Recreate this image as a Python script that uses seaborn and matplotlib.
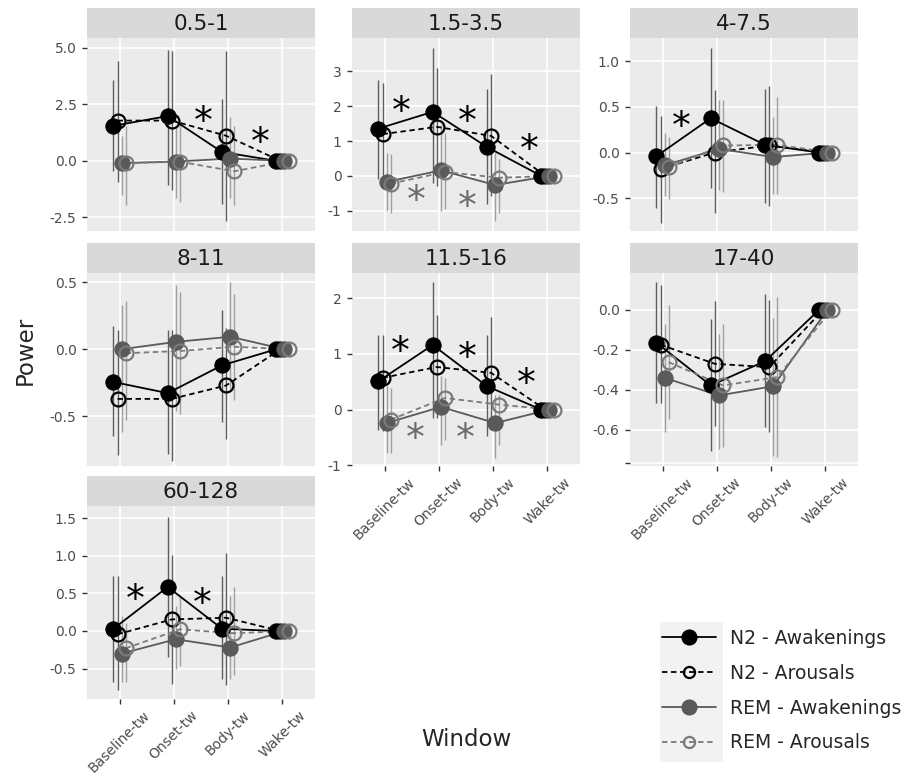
import numpy as np
import pandas as pd
import matplotlib
matplotlib.use("Agg")
import matplotlib.pyplot as plt
import seaborn as sns
from matplotlib.lines import Line2D
from matplotlib.patches import Rectangle

# ---------------- data ----------------
windows = ["Baseline-tw", "Onset-tw", "Body-tw", "Wake-tw"]
bands = ["0.5-1", "1.5-3.5", "4-7.5", "8-11", "11.5-16", "17-40", "60-128"]
series_names = ["N2 - Awakenings", "N2 - Arousals", "REM - Awakenings", "REM - Arousals"]

n2_awk_mean = [[1.55, 1.98, 0.39, 0], [1.36, 1.84, 0.83, 0], [-0.04, 0.376, 0.084, 0],
               [-0.244, -0.327, -0.12, 0], [0.51, 1.16, 0.42, 0], [-0.165, -0.378, -0.257, 0],
               [0.03, 0.586, 0.03, 0]]
n2_aro_mean = [[1.78, 1.78, 1.11, 0], [1.2, 1.41, 1.15, 0], [-0.18, 0.0, 0.077, 0],
               [-0.37, -0.37, -0.27, 0], [0.57, 0.765, 0.66, 0], [-0.175, -0.27, -0.287, 0],
               [-0.044, 0.154, 0.176, 0]]
rem_awk_mean = [[-0.1, -0.03, 0.1, 0], [-0.17, 0.16, -0.26, 0], [-0.14, 0.04, -0.05, 0],
                [0.0, 0.055, 0.093, 0], [-0.24, 0.05, -0.24, 0], [-0.34, -0.428, -0.382, 0],
                [-0.3, -0.11, -0.22, 0]]
rem_aro_mean = [[-0.1, -0.04, -0.46, 0], [-0.22, 0.11, -0.05, 0], [-0.16, 0.077, 0.084, 0],
                [-0.03, -0.013, 0.018, 0], [-0.18, 0.21, 0.09, 0], [-0.262, -0.378, -0.337, 0],
                [-0.23, 0.022, -0.03, 0]]

# error bar limits (Baseline, Onset, Body); Wake-tw has none
n2_awk_hi = [[3.58, 4.91, 2.72], [2.76, 3.68, 2.49], [0.515, 1.14, 0.70], [0.17, 0.14, 0.29],
             [1.34, 2.28, 1.34], [0.138, -0.045, 0.077], [0.735, 1.52, 0.727]]
n2_awk_lo = [[-0.43, -1.05, -1.92], [-0.1, -0.19, -0.81], [-0.61, -0.39, -0.55], [-0.65, -0.78, -0.54],
             [-0.36, -0.15, -0.48], [-0.467, -0.703, -0.587], [-0.68, -0.35, -0.64]]
n2_aro_hi = [[4.41, 4.84, 4.87], [2.66, 3.11, 2.92], [0.405, 0.69, 0.73], [0.14, 0.14, 0.16],
             [1.33, 1.69, 1.67], [0.122, 0.042, 0.047], [0.727, 1.01, 1.04]]
n2_aro_lo = [[-0.94, -1.3, -2.67], [-0.14, -0.29, -0.57], [-0.77, -0.66, -0.59], [-0.79, -0.83, -0.67],
             [-0.39, -0.15, -0.36], [-0.467, -0.578, -0.612], [-0.79, -0.7, -0.72]]
rem_awk_hi = [[1.08, 1.52, 1.95], [0.67, 1.45, 0.67], [0.21, 0.58, 0.39], [0.33, 0.48, 0.5],
              [0.42, 0.6, 0.27], [-0.07, -0.12, -0.04], [0.2, 0.33, 0.46]]
rem_awk_lo = [[-1.52, -1.66, -1.66], [-1.0, -1.0, -1.29], [-0.48, -0.41, -0.46], [-0.62, -0.46, -0.29],
              [-0.78, -0.63, -0.87], [-0.61, -0.695, -0.728], [-0.68, -0.51, -0.64]]
rem_aro_hi = [[1.52, 1.66, 1.52], [0.62, 1.24, 0.48], [0.175, 0.58, 0.61], [0.36, 0.43, 0.41],
              [0.39, 0.57, 0.27], [0.022, -0.07, 0.063], [0.11, 0.46, 0.586]]
rem_aro_lo = [[-1.95, -1.8, -1.95], [-1.05, -0.96, -1.05], [-0.51, -0.43, -0.45], [-0.53, -0.48, -0.38],
              [-0.78, -0.54, -0.63], [-0.545, -0.687, -0.737], [-0.68, -0.46, -0.59]]

# significance markers: (band index, x position in window units, y value, group)
sig_marks = [(0, 1.54, 1.95, "N2"), (0, 2.59, 1.05, "N2"),
             (1, 0.31, 2.0, "N2"), (1, 1.52, 1.72, "N2"), (1, 2.67, 0.91, "N2"),
             (1, 0.58, -0.57, "REM"), (1, 1.52, -0.72, "REM"),
             (2, 0.34, 0.34, "N2"),
             (4, 0.29, 1.14, "N2"), (4, 1.52, 1.02, "N2"), (4, 2.61, 0.57, "N2"),
             (4, 0.57, -0.42, "REM"), (4, 1.49, -0.42, "REM"),
             (6, 0.29, 0.485, "N2"), (6, 1.52, 0.44, "N2")]

y_ticks = [[-2.5, 0, 2.5, 5.0], [-1, 0, 1, 2, 3], [-0.5, 0, 0.5, 1.0], [-0.5, 0, 0.5],
           [-1, 0, 1, 2], [-0.765, -0.6, -0.4, -0.2, 0.0], [-0.5, 0, 0.5, 1.0, 1.5]]
y_ticklabels = [["-2.5", "0.0", "2.5", "5.0"], ["-1", "0", "1", "2", "3"],
                ["-0.5", "0.0", "0.5", "1.0"], ["-0.5", "0.0", "0.5"],
                ["-1", "0", "1", "2"], ["", "-0.6", "-0.4", "-0.2", "0.0"],
                ["-0.5", "0.0", "0.5", "1.0", "1.5"]]
y_lims = [(-3.1, 5.43), (-1.58, 3.96), (-0.86, 1.255), (-0.87, 0.568),
          (-1.01, 2.45), (-0.78, 0.183), (-0.905, 1.663)]

means = [n2_awk_mean, n2_aro_mean, rem_awk_mean, rem_aro_mean]
his = [n2_awk_hi, n2_aro_hi, rem_awk_hi, rem_aro_hi]
los = [n2_awk_lo, n2_aro_lo, rem_awk_lo, rem_aro_lo]

rows = []
for si, name in enumerate(series_names):
    for bi, band in enumerate(bands):
        for wi, win in enumerate(windows):
            hi = his[si][bi][wi] if wi < 3 else np.nan
            lo = los[si][bi][wi] if wi < 3 else np.nan
            rows.append(dict(series=name, sidx=si, band=band, bidx=bi, window=win, widx=wi,
                             mean=means[si][bi][wi], hi=hi, lo=lo))
df = pd.DataFrame(rows)
dodge_width = 0.3
df["x"] = df["widx"] + (df["sidx"] - 1.5) * dodge_width / 4

# ---------------- style ----------------
sns.set_theme(style="darkgrid")
plt.rcParams["font.family"] = ["DejaVu Sans"]

line_col = {0: "black", 1: "black", 2: "#5a5a5a", 3: "#7a7a7a"}
line_ls = {0: "-", 1: (0, (3, 2)), 2: "-", 3: (0, (3, 2))}
filled = {0: True, 1: False, 2: True, 3: False}
err_col = {0: "#5e5e5e", 1: "#5e5e5e", 2: "#a0a0a0", 3: "#a0a0a0"}
star_col = {"N2": "black", "REM": "#6a6a6a"}

W, H = 909, 776
fig = plt.figure(figsize=(W / 100, H / 100), dpi=100)
fig.patch.set_facecolor("white")

col_left = [87, 352, 630]
row_top = [38, 273, 506]
panel_w, panel_h, strip_h = 228, 193, 30


def fx(px):
    return px / W


def fy(py):
    return 1 - py / H


xlabel_panels = {4, 5, 6}

for bi, band in enumerate(bands):
    r, c = divmod(bi, 3)
    left, top = col_left[c], row_top[r]
    ax = fig.add_axes([fx(left), fy(top + panel_h), panel_w / W, panel_h / H])
    ax.set_facecolor("#EBEBEB")
    for s in ax.spines.values():
        s.set_visible(False)
    sub = df[df["bidx"] == bi]

    for si in range(4):
        d = sub[(sub["sidx"] == si) & sub["hi"].notna()]
        ax.vlines(d["x"], d["lo"], d["hi"], colors=err_col[si], lw=1.0, zorder=2)
    for si in range(4):
        d = sub[sub["sidx"] == si]
        sns.lineplot(data=d, x="x", y="mean", ax=ax, color=line_col[si], linestyle=line_ls[si],
                     lw=1.3, estimator=None, sort=False, errorbar=None, legend=False, zorder=3)
    for si in range(4):
        d = sub[sub["sidx"] == si]
        if filled[si]:
            sns.lineplot(data=d, x="x", y="mean", ax=ax, color=line_col[si], lw=0, marker="o",
                         markersize=11, markerfacecolor=line_col[si], markeredgecolor=line_col[si],
                         estimator=None, sort=False, errorbar=None, legend=False, zorder=4)
        else:
            sns.lineplot(data=d, x="x", y="mean", ax=ax, color=line_col[si], lw=0, marker="o",
                         markersize=10, markerfacecolor="none", markeredgecolor=line_col[si],
                         markeredgewidth=1.6, estimator=None, sort=False, errorbar=None,
                         legend=False, zorder=4)

    for (pb, sx, sy, grp) in sig_marks:
        if pb == bi:
            ax.annotate("*", (sx, sy), xytext=(0, -12), textcoords="offset points",
                        ha="center", va="baseline", fontsize=27, color=star_col[grp], zorder=5)

    ax.set_xlim(-0.6, 3.6)
    ax.set_ylim(*y_lims[bi])
    ax.set_xticks(range(len(windows)))
    ax.set_yticks(y_ticks[bi])
    ax.set_yticklabels(y_ticklabels[bi])
    ax.grid(True, color="white", lw=1.2)
    ax.set_axisbelow(True)
    ax.set_xlabel("")
    ax.set_ylabel("")
    ax.tick_params(axis="y", length=3.5, width=1, color="#333333", labelsize=10,
                   labelcolor="#4D4D4D", pad=4, left=True)
    if bi in xlabel_panels:
        ax.set_xticklabels(windows, rotation=45, ha="center", va="top")
        ax.tick_params(axis="x", length=3.5, width=1, color="#333333", labelsize=10,
                       labelcolor="#4D4D4D", pad=3, bottom=True)
    else:
        ax.tick_params(axis="x", length=0, labelbottom=False)

    sax = fig.add_axes([fx(left), fy(top), panel_w / W, strip_h / H])
    sax.set_facecolor("#D9D9D9")
    for s in sax.spines.values():
        s.set_visible(False)
    sax.set_xticks([])
    sax.set_yticks([])
    sax.grid(False)
    sax.text(0.5, 0.47, band, ha="center", va="center", fontsize=15.5, color="#1A1A1A",
             transform=sax.transAxes)

fig.text(fx(25), fy(350), "Power", rotation=90, ha="center", va="center", fontsize=16.5)
fig.text(fx(466), fy(740), "Window", ha="center", va="center", fontsize=16.5)

fig.add_artist(Rectangle((fx(660), fy(762)), 63 / W, 140 / H, transform=fig.transFigure,
                         facecolor="#F2F2F2", edgecolor="none", zorder=0))
handles = []
for si in range(4):
    handles.append(Line2D([0], [0], color=line_col[si], linestyle=line_ls[si], lw=1.3, marker="o",
                          markersize=10 if filled[si] else 8,
                          markerfacecolor=line_col[si] if filled[si] else "none",
                          markeredgecolor=line_col[si], markeredgewidth=1.6))
fig.legend(handles, series_names, loc="upper left", bbox_to_anchor=(fx(662), fy(629)),
           frameon=False, fontsize=13.5, handlelength=2.9, handletextpad=0.7,
           labelspacing=0.84, borderpad=0, borderaxespad=0)

fig.savefig("out.png", dpi=100, facecolor="white")
